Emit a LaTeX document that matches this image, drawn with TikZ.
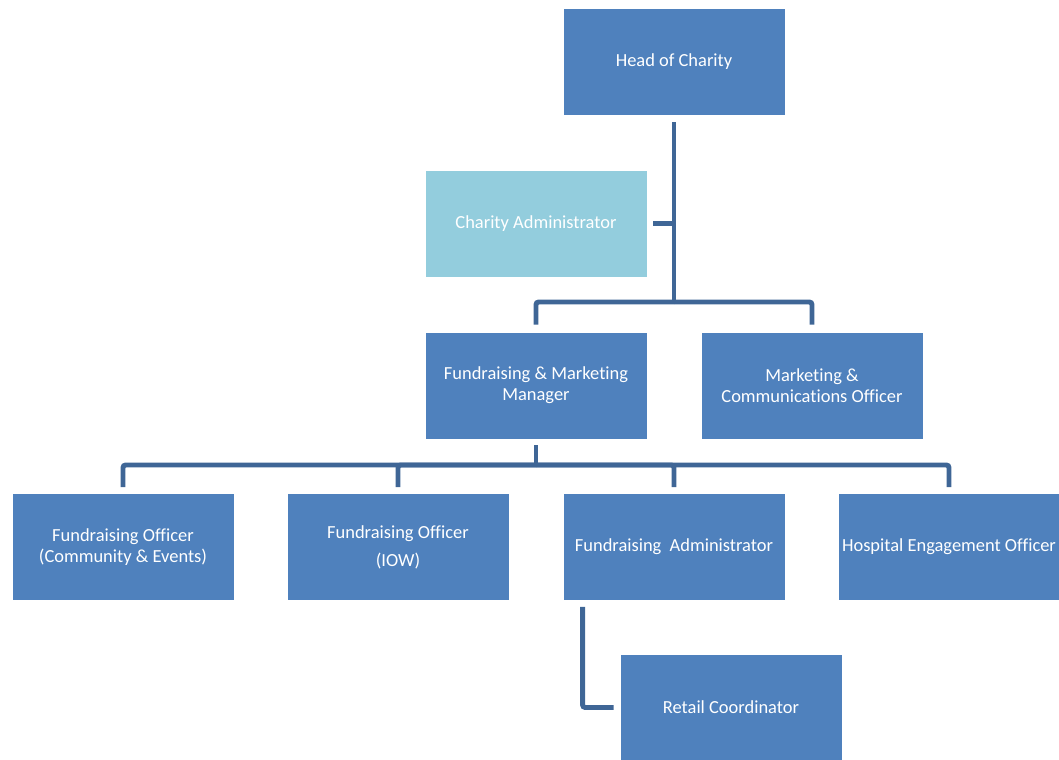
\documentclass[tikz,border=0pt]{standalone}
\usepackage{fontspec}
\setmainfont{Carlito}[Ligatures=NoCommon]
\usepackage{xcolor}
\usetikzlibrary{positioning, calc}
\definecolor{roleblue}{HTML}{4F81BD}
\definecolor{adminblue}{HTML}{93CDDD}
\definecolor{linkblue}{HTML}{3F6696}

\begin{document}
\begin{tikzpicture}[
    x=0.02cm, y=-0.02cm,
    role/.style={rectangle, draw=white, line width=0.5pt, fill=#1,
        minimum width=4.44cm, minimum height=2.14cm, inner sep=1pt,
        align=center, text=white, font=\fontsize{10.5}{12}\selectfont},
    role/.default=roleblue,
    conn/.style={draw=linkblue, line width=2.8pt, rounded corners=1.5pt},
]
\useasboundingbox (0,0) rectangle (1059,760);

% Top of the chart
\node[role] (head) at (674,61.5) {Head of Charity};
\node[role=adminblue] (admin) at (536,223.5) {Charity Administrator};

% Managers
\node[role] (fmm) at (536,385.5) {Fundraising \& Marketing\\Manager};
\node[role] (mco) at (812,385.5) {Marketing \&\\Communications Officer};

% Officers
\node[role] (fo1) at (123,547) {Fundraising Officer\\(Community \& Events)};
\node[role] (fo2) at (398,547) {Fundraising Officer\\[4pt](IOW)};
\node[role] (fa) at (674,547) {Fundraising\ \ Administrator};
\node[role] (heo) at (949,547) {Hospital Engagement Officer};

% Shop
\node[role] (retail) at (731,707.5) {Retail Coordinator};

% Connectors
\coordinate (bus1) at (674,302);
\coordinate (bus2) at (536,465);

\draw[conn, shorten <=0.14cm] (head.south) -- (bus1);
\draw[conn, shorten <=0.12cm] (admin.east) -- (admin.east -| bus1);
\draw[conn, shorten >=0.14cm] (bus1) -| (fmm.north);
\draw[conn, shorten >=0.14cm] (bus1) -| (mco.north);

\draw[conn, shorten <=0.12cm] (fmm.south) -- (bus2);
\foreach \n in {fo1, fo2, fa, heo}
    \draw[conn, shorten >=0.12cm] (bus2) -| (\n.north);

\draw[conn, shorten <=0.12cm, shorten >=0.12cm] ([xshift=0.4cm]fa.south west) |- (retail.west);

\end{tikzpicture}
\end{document}
